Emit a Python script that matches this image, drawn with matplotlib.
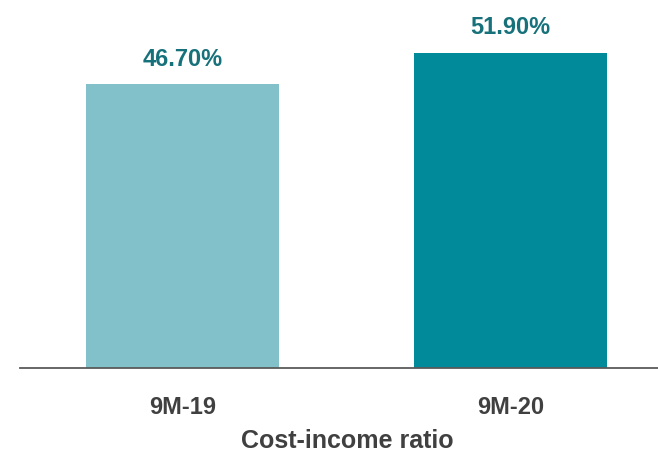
import matplotlib.pyplot as plt
from matplotlib import font_manager

# cost-income ratio, nine-month periods
periods = ["9M-19", "9M-20"]
ratio = [46.70, 51.90]
bar_colors = ["#82c1c9", "#008a9a"]

names = {f.name for f in font_manager.fontManager.ttflist}
family = "Liberation Sans Narrow" if "Liberation Sans Narrow" in names else "Liberation Sans"
plt.rcParams["font.family"] = [family, "DejaVu Sans"]

fig = plt.figure(figsize=(6.58, 4.55), dpi=100)
ax = fig.add_axes([20 / 658, 87 / 455, 638 / 658, 368 / 455])

x = range(len(periods))
bars = ax.bar(x, ratio, width=0.588, color=bar_colors)

for b, v in zip(bars, ratio):
    ax.annotate(f"{v:.2f}%", (b.get_x() + b.get_width() / 2, v),
                xytext=(0, 13.5), textcoords="offset points",
                ha="center", va="baseline", fontsize=17, fontweight="bold",
                color="#17717b")

ax.set_xlim(-0.495, 1.45)
ax.set_ylim(0, 60.6)
ax.set_xticks(list(x))
ax.set_xticklabels(periods, fontsize=17, fontweight="bold", color="#404040")
ax.tick_params(axis="x", length=0, pad=20)
ax.set_yticks([])
for side in ["top", "left", "right"]:
    ax.spines[side].set_visible(False)
ax.spines["bottom"].set_color("#5a5a5a")
ax.spines["bottom"].set_linewidth(1.3)

fig.text(347 / 658, 1 - 441 / 455, "Cost-income ratio", ha="center", va="center",
         fontsize=18, fontweight="bold", color="#404040")

fig.savefig("out.png", dpi=100)
